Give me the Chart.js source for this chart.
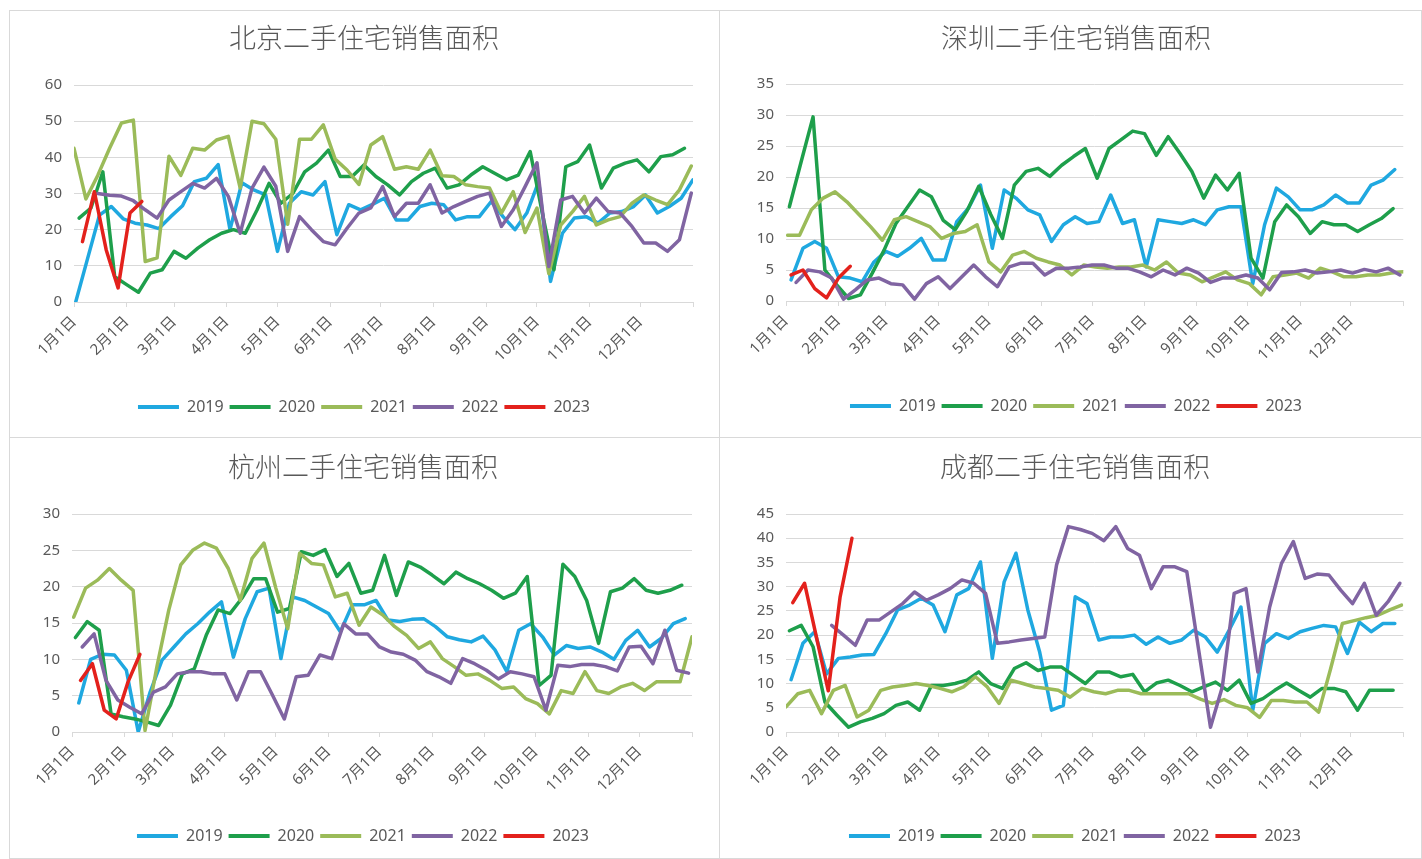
<!DOCTYPE html>
<html>
<head>
<meta charset="utf-8">
<script src="https://cdn.jsdelivr.net/npm/chart.js@4.4.1/dist/chart.umd.min.js"></script>
<style>
html, body { margin: 0; padding: 0; background: #fff; }
body { width: 1422px; height: 859px; position: relative; overflow: hidden; }
.panel { position: absolute; box-sizing: border-box; border: 1px solid #d9d9d9; }
canvas { position: absolute; }
</style>
</head>
<body>
<script>
// weekly second-hand housing sales area, x = day of year of each week

const years = ["2019", "2020", "2021", "2022", "2023"];

const monthDays = [0, 31, 59, 90, 120, 151, 181, 212, 243, 273, 304, 334, 365];

const monthLabels = [
    "1月1日", "2月1日", "3月1日", "4月1日", "5月1日", "6月1日",
    "7月1日", "8月1日", "9月1日", "10月1日", "11月1日", "12月1日", ""
];

// 北京
const bjStart = [1, 3, 0, 14, 5];
const bj2019 = [0, 12, 24, 26.4, 23, 21.8, 21.3, 20.3, 23.6, 26.6, 33.3, 34.2, 38, 20, 33, 31, 29.6, 14, 27.3, 30.5, 29.6, 33.3, 18.6, 26.9, 25.5, 27, 28.7, 22.7, 22.7, 26.4, 27.3, 26.9, 22.7, 23.6, 23.6, 27.8, 23.6, 20, 24.6, 33.3, 5.7, 19, 23.2, 23.6, 21.8, 24.6, 25, 26.4, 29.6, 24.6, 26.4, 28.7, 33.8];
const bj2020 = [23.2, 26, 36, 7, 4.8, 2.7, 8, 8.9, 14, 12.1, 14.9, 17.2, 19, 20, 19, 25.5, 32.8, 27.3, 30, 36, 38.4, 42, 34.7, 34.7, 37.9, 34.7, 32.4, 29.6, 33.3, 35.6, 37, 31.5, 32.4, 35.1, 37.4, 35.6, 33.8, 35.1, 41.6, 25, 8.9, 37.4, 38.8, 43.4, 31.5, 37, 38.4, 39.3, 36, 40.2, 40.7, 42.5];
const bj2021 = [42.5, 28.5, 35, 42.5, 49.5, 50.3, 11.2, 12.2, 40.3, 35, 42.5, 42, 44.8, 45.8, 31.5, 50, 49.3, 45, 21.5, 45, 45, 49, 39.5, 36.5, 32.5, 43.4, 45.7, 36.7, 37.4, 36.7, 42, 34.9, 34.7, 32.4, 31.9, 31.5, 24.6, 30.5, 19.2, 26, 7.8, 21.3, 25, 29.2, 21.3, 22.7, 23.6, 27.3, 29.6, 28.2, 26.9, 31, 37.6];
const bj2022 = [30, 29.5, 29.3, 28, 25.5, 23.2, 28.2, 30.5, 32.8, 31.5, 34.2, 29.2, 19, 31.5, 37.3, 32, 14, 23.6, 20, 16.7, 15.8, 20.4, 24.6, 26, 31.9, 23.6, 27.3, 27.3, 32.4, 24.6, 26.4, 27.8, 29.2, 30.1, 20.9, 25.5, 31.9, 38.5, 9.8, 28.2, 29.2, 24.6, 28.7, 25, 24.6, 20.9, 16.3, 16.3, 14, 17.2, 30.1];
const bj2023 = [16.7, 30.5, 14.4, 3.9, 24.6, 27.8];

// 深圳
const szStart = [3, 2, 1, 6, 3];
const sz2019 = [3.4, 8.5, 9.6, 8.5, 3.9, 3.7, 3.1, 6.3, 8, 7.2, 8.5, 10.1, 6.6, 6.6, 12.8, 15, 18.7, 8.5, 17.9, 16.6, 14.7, 13.9, 9.6, 12.3, 13.6, 12.5, 12.8, 17.1, 12.5, 13.1, 5.5, 13.1, 12.8, 12.5, 13.1, 12.3, 14.7, 15.2, 15.2, 2.8, 12.3, 18.2, 16.8, 14.7, 14.7, 15.5, 17.1, 15.8, 15.8, 18.7, 19.5, 21.2];
const sz2020 = [15.2, 22.5, 29.7, 5, 2.6, 0.4, 1, 4.5, 8.2, 12.5, 15.2, 17.9, 16.8, 13, 11.5, 14.5, 18.5, 14, 10.1, 18.7, 20.9, 21.4, 20.1, 21.9, 23.3, 24.6, 19.8, 24.6, 26, 27.4, 27, 23.5, 26.5, 23.8, 20.9, 16.6, 20.3, 17.9, 20.6, 6.9, 3.7, 12.8, 15.5, 13.6, 10.9, 12.8, 12.3, 12.3, 11.2, 12.3, 13.3, 14.9];
const sz2021 = [10.6, 10.6, 14.7, 16.6, 17.6, 16, 14, 12, 9.8, 13.1, 13.6, 12.8, 12, 10.1, 10.9, 11.2, 12.3, 6.3, 4.7, 7.4, 8, 6.9, 6.3, 5.8, 4.2, 5.8, 5.5, 5.3, 5.5, 5.5, 5.8, 5, 6.3, 4.5, 4.2, 3.1, 3.9, 4.7, 3.4, 2.8, 1, 3.9, 4.2, 4.5, 3.7, 5.3, 4.7, 3.9, 3.9, 4.2, 4.2, 4.5, 4.7];
const sz2022 = [3, 5, 4.7, 3.7, 0.3, 1.8, 3.4, 3.7, 2.8, 2.6, 0.3, 2.8, 3.9, 2, 3.9, 5.8, 3.9, 2.3, 5.5, 6.1, 6.1, 4.2, 5.3, 5.3, 5.5, 5.8, 5.8, 5.3, 5.3, 4.7, 3.9, 5, 4.2, 5.3, 4.5, 3, 3.7, 3.7, 4.2, 3.7, 1.8, 4.6, 4.7, 5, 4.5, 4.7, 5, 4.5, 5.1, 4.7, 5.3, 4.2];
const sz2023 = [4.2, 5, 2, 0.5, 3.7, 5.6];

// 杭州
const hzStart = [4, 2, 1, 6, 5];
const hz2019 = [4, 10, 10.7, 10.6, 8.5, 0, 5.5, 9.9, 11.7, 13.5, 14.9, 16.5, 17.9, 10.3, 15.6, 19.3, 19.8, 10.1, 18.6, 18.1, 17.2, 16.3, 13.8, 17.5, 17.5, 18.1, 15.4, 15.2, 15.5, 15.6, 14.5, 13.1, 12.7, 12.4, 13.2, 11.3, 8.3, 14, 14.9, 13.1, 10.6, 11.9, 11.5, 11.7, 11, 10, 12.6, 14, 11.7, 12.9, 14.9, 15.6];
const hz2020 = [13, 15.2, 14, 2.5, 2.1, 1.8, 1.4, 0.9, 3.7, 8, 8.7, 13.3, 16.8, 16.3, 18.4, 21.1, 21.1, 16.5, 17, 24.8, 24.3, 25.1, 21.4, 23.2, 19.1, 19.5, 24.3, 18.8, 23.4, 22.7, 21.6, 20.4, 22, 21.1, 20.4, 19.5, 18.4, 19.1, 21.4, 6.4, 7.8, 23.1, 21.4, 18.1, 12.2, 19.3, 19.8, 21.1, 19.5, 19.1, 19.5, 20.2];
const hz2021 = [15.8, 19.8, 20.9, 22.5, 20.9, 19.5, 0.2, 9, 16.8, 23, 25, 26, 25.3, 22.5, 18.1, 23.9, 26, 19.8, 14.2, 24.6, 23.2, 23, 18.6, 19.1, 14.7, 17.2, 16.1, 14.5, 13.3, 11.5, 12.4, 10.1, 9, 7.8, 8, 7.1, 6, 6.2, 4.6, 3.9, 2.5, 5.7, 5.3, 8.3, 5.7, 5.3, 6.2, 6.7, 5.7, 6.9, 6.9, 6.9, 13.1];
const hz2022 = [11.7, 13.5, 7.1, 4.4, 3.4, 2.5, 5.5, 6.2, 8, 8.3, 8.3, 8, 8, 4.4, 8.3, 8.3, 5.1, 1.8, 7.6, 7.8, 10.6, 10.1, 14.9, 13.5, 13.5, 11.7, 11, 10.7, 9.9, 8.3, 7.6, 6.7, 10.1, 9.4, 8.5, 7.3, 8.3, 8, 7.6, 3, 9.2, 9, 9.3, 9.3, 9, 8.4, 11.7, 11.8, 9.4, 14, 8.5, 8.1];
const hz2023 = [7.1, 9.4, 3, 1.8, 6.9, 10.7];

// 成都
const cdStart = [3, 2, 0, 27, 4];
const cd2019 = [10.8, 18.3, 20.7, 12, 15.2, 15.5, 15.9, 16, 20.3, 25.2, 26.2, 27.6, 26.2, 20.7, 28.3, 29.6, 35.1, 15.2, 31, 36.9, 25.2, 16.5, 4.5, 5.5, 27.9, 26.5, 19, 19.6, 19.6, 20, 18.1, 19.6, 18.3, 19, 21, 19.6, 16.5, 21, 25.8, 4.5, 18.3, 20.3, 19.3, 20.7, 21.4, 22, 21.7, 16.2, 22.7, 20.7, 22.4, 22.4];
const cd2020 = [20.9, 22, 17.6, 6.2, 3.5, 1, 2.1, 2.8, 3.8, 5.5, 6.2, 4.5, 9.6, 9.6, 10, 10.7, 12.4, 10, 9, 13.1, 14.3, 12.7, 13.4, 13.4, 11.7, 10, 12.4, 12.4, 11.4, 11.9, 8.3, 10.1, 10.7, 9.6, 8.3, 9.3, 10.3, 8.6, 10.7, 5.9, 6.9, 8.6, 10.1, 8.6, 7.2, 9, 9, 8.3, 4.5, 8.6, 8.6, 8.6];
const cd2021 = [5.2, 7.9, 8.6, 3.8, 8.6, 9.6, 3.1, 4.5, 8.6, 9.3, 9.6, 10, 9.6, 9, 8.3, 9.3, 11.4, 9.3, 5.9, 10.7, 10, 9.3, 9, 8.6, 7.2, 9, 8.3, 7.9, 8.6, 8.6, 7.9, 7.9, 7.9, 7.9, 7.9, 6.8, 5.9, 6.7, 5.5, 5, 3, 6.5, 6.5, 6.2, 6.2, 4.1, 13, 22.4, 23, 23.6, 24.1, 25.2, 26.2];
const cd2022 = [22, 20, 17.9, 23.1, 23.1, 24.8, 26.5, 28.9, 27.2, 28.3, 29.6, 31.4, 30.7, 28.6, 18.3, 18.6, 19, 19.3, 19.6, 34.5, 42.4, 41.8, 41, 39.5, 42.4, 37.9, 36.5, 29.6, 34.1, 34.1, 33.1, 17, 1, 9.3, 28.6, 29.6, 12.4, 25.8, 34.8, 39.3, 31.7, 32.6, 32.4, 29.3, 26.5, 30.7, 24.1, 26.9, 30.7];
const cd2023 = [26.7, 30.7, 19.6, 8.5, 27.9, 40];

// styles
const lineColors = ["#1fa8e0", "#1e9f4b", "#9bbb59", "#8064a2", "#e3211c"];
const textColor = "#595959";
const gridColor = "#d9d9d9";
const baseFont = "'Noto Sans', 'Noto Sans CJK SC', sans-serif";

const TITLE_SIZE = 27;
const TITLE_LH = TITLE_SIZE * 1.2;
const LEG_SIZE = 16;
const LEG_PAD = 6;

const panels = [
    {
        title: "北京二手住宅销售面积",
        series: [bj2019, bj2020, bj2021, bj2022, bj2023],
        starts: bjStart,
        yMax: 60, yStep: 10,
        box: { x: 9, y: 10, w: 711, h: 428 },
        plot: { l: 74, r: 693, t: 85, b: 302 },
        titleX: 364, titleY: 38, legendY: 407
    },
    {
        title: "深圳二手住宅销售面积",
        series: [sz2019, sz2020, sz2021, sz2022, sz2023],
        starts: szStart,
        yMax: 35, yStep: 5,
        box: { x: 719, y: 10, w: 703, h: 428 },
        plot: { l: 786, r: 1405, t: 84, b: 301 },
        titleX: 1076, titleY: 38, legendY: 406
    },
    {
        title: "杭州二手住宅销售面积",
        series: [hz2019, hz2020, hz2021, hz2022, hz2023],
        starts: hzStart,
        yMax: 30, yStep: 5,
        box: { x: 9, y: 437, w: 711, h: 422 },
        plot: { l: 72, r: 692, t: 514, b: 732 },
        titleX: 363, titleY: 467, legendY: 836
    },
    {
        title: "成都二手住宅销售面积",
        series: [cd2019, cd2020, cd2021, cd2022, cd2023],
        starts: cdStart,
        yMax: 45, yStep: 5,
        box: { x: 719, y: 437, w: 703, h: 422 },
        plot: { l: 786, r: 1405, t: 514, b: 732 },
        titleX: 1075, titleY: 467, legendY: 836
    }
];

Chart.defaults.font.family = baseFont;
Chart.defaults.color = textColor;

function buildChart(p) {

    const div = document.createElement("div");
    div.className = "panel";
    div.style.left = p.box.x + "px";
    div.style.top = p.box.y + "px";
    div.style.width = p.box.w + "px";
    div.style.height = p.box.h + "px";
    document.body.appendChild(div);

    const canvas = document.createElement("canvas");
    canvas.width = p.box.w;
    canvas.height = p.box.h;
    canvas.style.left = p.box.x + "px";
    canvas.style.top = p.box.y + "px";
    document.body.appendChild(canvas);

    // local geometry
    const l = p.plot.l - p.box.x;
    const r = p.plot.r - p.box.x;
    const t = p.plot.t - p.box.y;
    const b = p.plot.b - p.box.y;
    const padRight = p.box.w - r;
    const padLeft = 2 * (p.titleX - p.box.x) - r;
    const legCenter = p.legendY - p.box.y;
    const padBottom = p.box.h - (legCenter + LEG_SIZE / 2 + 10);
    const legTop = legCenter - LEG_PAD - LEG_SIZE / 2;
    const titleTop = (p.titleY - p.box.y) - TITLE_LH / 2;

    const datasets = years.map((year, k) => ({
        label: year,
        data: p.series[k].map((v, i) => ({ x: p.starts[k] + 7 * i, y: v })),
        borderColor: lineColors[k],
        backgroundColor: lineColors[k],
        borderWidth: 3.5,
        pointRadius: 0,
        tension: 0,
        borderJoinStyle: "round",
        borderCapStyle: "round",
        order: years.length - k
    }));

    return new Chart(canvas, {
        type: "line",
        data: { datasets },
        options: {
            responsive: false,
            animation: false,
            layout: {
                padding: { left: padLeft, right: padRight, top: 0, bottom: padBottom }
            },
            plugins: {
                title: {
                    display: true,
                    text: p.title,
                    color: textColor,
                    font: { family: "'Noto Sans CJK SC', sans-serif", size: TITLE_SIZE, weight: "300", lineHeight: 1.2 },
                    padding: { top: titleTop, bottom: t - titleTop - TITLE_LH }
                },
                legend: {
                    position: "bottom",
                    labels: {
                        color: textColor,
                        font: { size: LEG_SIZE },
                        boxWidth: 41,
                        boxHeight: 4,
                        padding: LEG_PAD,
                        sort: (a, c) => a.datasetIndex - c.datasetIndex,
                        generateLabels: chart =>
                            Chart.defaults.plugins.legend.labels.generateLabels(chart)
                                .map(item => ({ ...item, lineWidth: 0, fillStyle: item.strokeStyle }))
                    }
                },
                tooltip: { enabled: false }
            },
            scales: {
                x: {
                    type: "linear",
                    min: 0,
                    max: 365,
                    afterBuildTicks: axis => {
                        axis.ticks = monthDays.map(v => ({ value: v }));
                    },
                    afterFit: axis => {
                        axis.height = legTop - b;
                    },
                    ticks: {
                        autoSkip: false,
                        minRotation: 45,
                        maxRotation: 45,
                        padding: 6,
                        color: textColor,
                        font: { size: 15 },
                        callback: v => monthLabels[monthDays.indexOf(v)]
                    },
                    grid: {
                        drawOnChartArea: false,
                        drawTicks: true,
                        tickLength: 5,
                        color: gridColor
                    },
                    border: { display: true, color: gridColor }
                },
                y: {
                    min: 0,
                    max: p.yMax,
                    afterFit: axis => {
                        axis.width = l - padLeft;
                    },
                    ticks: {
                        stepSize: p.yStep,
                        padding: 12,
                        color: textColor,
                        font: { size: 15 }
                    },
                    grid: {
                        color: gridColor,
                        drawTicks: false
                    },
                    border: { display: false }
                }
            }
        }
    });
}

panels.forEach(buildChart);
</script>
</body>
</html>
